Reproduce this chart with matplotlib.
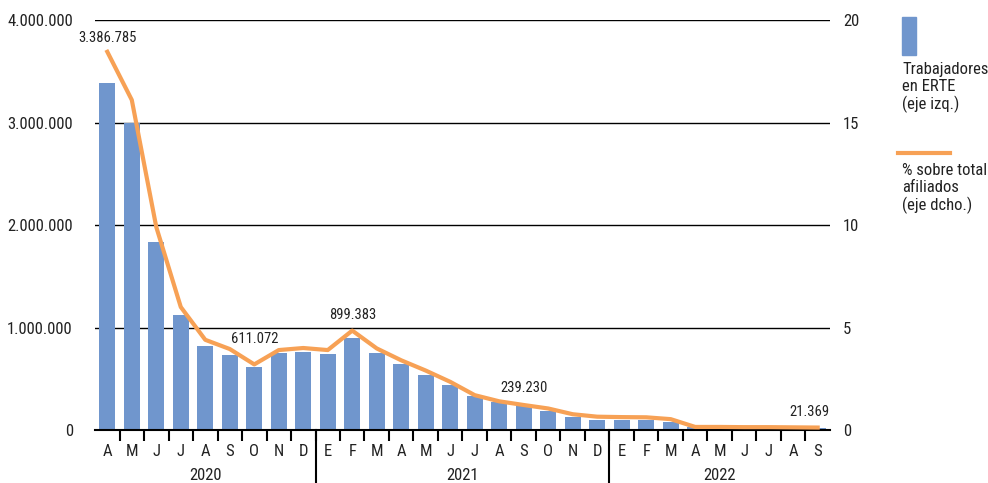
import matplotlib.pyplot as plt
from matplotlib import font_manager
from matplotlib.lines import Line2D
from matplotlib.patches import Rectangle
import numpy as np

# pick a narrow face if one is around
names = {f.name for f in font_manager.fontManager.ttflist}
narrow = [f for f in font_manager.fontManager.ttflist if f.stretch in ('condensed', 'semi-condensed')]
for cand in ['Liberation Sans Narrow', 'Roboto Condensed', 'DejaVu Sans Condensed', 'Open Sans Condensed']:
    if cand in names:
        fam = cand
        break
else:
    fam = narrow[0].name if narrow else 'Roboto'
plt.rcParams['font.family'] = [fam, 'DejaVu Sans']
if narrow and fam == narrow[0].name:
    plt.rcParams['font.stretch'] = 'condensed'

# Data: April 2020 - September 2022
months = ['A', 'M', 'J', 'J', 'A', 'S', 'O', 'N', 'D',
          'E', 'F', 'M', 'A', 'M', 'J', 'J', 'A', 'S', 'O', 'N', 'D',
          'E', 'F', 'M', 'A', 'M', 'J', 'J', 'A', 'S']
years = ['2020', '2021', '2022']
year_counts = [9, 12, 9]

workers = [3386785, 3000000, 1836000, 1123000, 820000, 730000, 611072, 755000, 765000,
           745000, 899383, 755000, 645000, 540000, 443000, 330000, 272000, 239230,
           190000, 130000, 102000, 98000, 95000, 80000,
           26000, 25000, 24000, 23000, 22000, 21369]
pct = [18.45, 16.1, 9.9, 6.0, 4.4, 3.95, 3.2, 3.9, 4.0,
       3.9, 4.85, 3.98, 3.4, 2.9, 2.35, 1.7, 1.4, 1.22, 1.05, 0.77, 0.65,
       0.63, 0.62, 0.53, 0.15, 0.15, 0.14, 0.14, 0.13, 0.12]
labeled = [0, 6, 10, 17, 29]
label_gap = [5, 13, 6, 7, 6]      # points above the line
label_dx = [0, 0, 0, 0, -6]

bar_color = '#7096CD'
line_color = '#F7A155'
txt = '#222222'

fig = plt.figure(figsize=(9.88, 4.83), dpi=100)
ax = fig.add_axes([0.0962, 0.1097, 0.7438, 0.8489])
ax2 = ax.twinx()

x = np.arange(len(months))
ax.bar(x, workers, width=0.66, color=bar_color, zorder=2)
ax2.plot(x, pct, color=line_color, lw=3, solid_joinstyle='round', zorder=3)

ax.set_xlim(-0.5, len(months) - 0.5)
ax.set_ylim(0, 4000000)
ax2.set_ylim(0, 20)

ax.set_yticks(np.arange(0, 4000001, 1000000))
ax.set_yticklabels(['0', '1.000.000', '2.000.000', '3.000.000', '4.000.000'], fontsize=12, color=txt)
ax2.set_yticks(np.arange(0, 21, 5))
ax2.set_yticklabels([str(v) for v in range(0, 21, 5)], fontsize=12, color=txt)
ax.yaxis.grid(True, color='black', lw=1)
ax.set_axisbelow(True)
ax.tick_params(axis='y', length=0, pad=16)
ax2.tick_params(axis='y', length=0, pad=9.5)
for a in (ax, ax2):
    for s in ('top', 'left', 'right'):
        a.spines[s].set_visible(False)
ax.spines['bottom'].set_linewidth(1.5)
ax2.spines['bottom'].set_visible(False)

# month labels and ticks between months
ax.set_xticks(x)
ax.set_xticklabels(months, fontsize=12, color=txt)
ax.tick_params(axis='x', length=0, pad=10)
ax.set_xticks(x[:-1] + 0.5, minor=True)
ax.tick_params(axis='x', which='minor', length=8, width=1.5, color='black')

# year separators and labels
start = 0
for i, (yr, n) in enumerate(zip(years, year_counts)):
    ax.text(start + (n - 1) / 2, -0.11, yr, transform=ax.get_xaxis_transform(),
            ha='center', va='center', fontsize=12, color=txt)
    if i < len(years) - 1:
        ax.plot([start + n - 0.5] * 2, [0, -0.14], transform=ax.get_xaxis_transform(),
                color='black', lw=1.5, clip_on=False)
    start += n

# value labels, placed above the line
for i, gap, dx in zip(labeled, label_gap, label_dx):
    ax2.annotate(f'{workers[i]:,}'.replace(',', '.'), (x[i], pct[i]), xytext=(dx, gap),
                 textcoords='offset points', ha='center', va='bottom', fontsize=10.5,
                 color=txt, zorder=5)

# legend
fig.patches.append(Rectangle((902 / 988, 1 - 55 / 483), 14 / 988, 38 / 483,
                             transform=fig.transFigure, color=bar_color))
fig.text(902 / 988, 1 - 62 / 483, 'Trabajadores\nen ERTE\n(eje izq.)', ha='left', va='top',
         fontsize=12, color=txt, linespacing=1.15)
fig.lines.append(Line2D([898 / 988, 950 / 988], [1 - 153 / 483] * 2,
                        transform=fig.transFigure, color=line_color, lw=3))
fig.text(902 / 988, 1 - 163 / 483, '% sobre total\nafiliados\n(eje dcho.)', ha='left', va='top',
         fontsize=12, color=txt, linespacing=1.15)

fig.savefig('out.png', dpi=100)
